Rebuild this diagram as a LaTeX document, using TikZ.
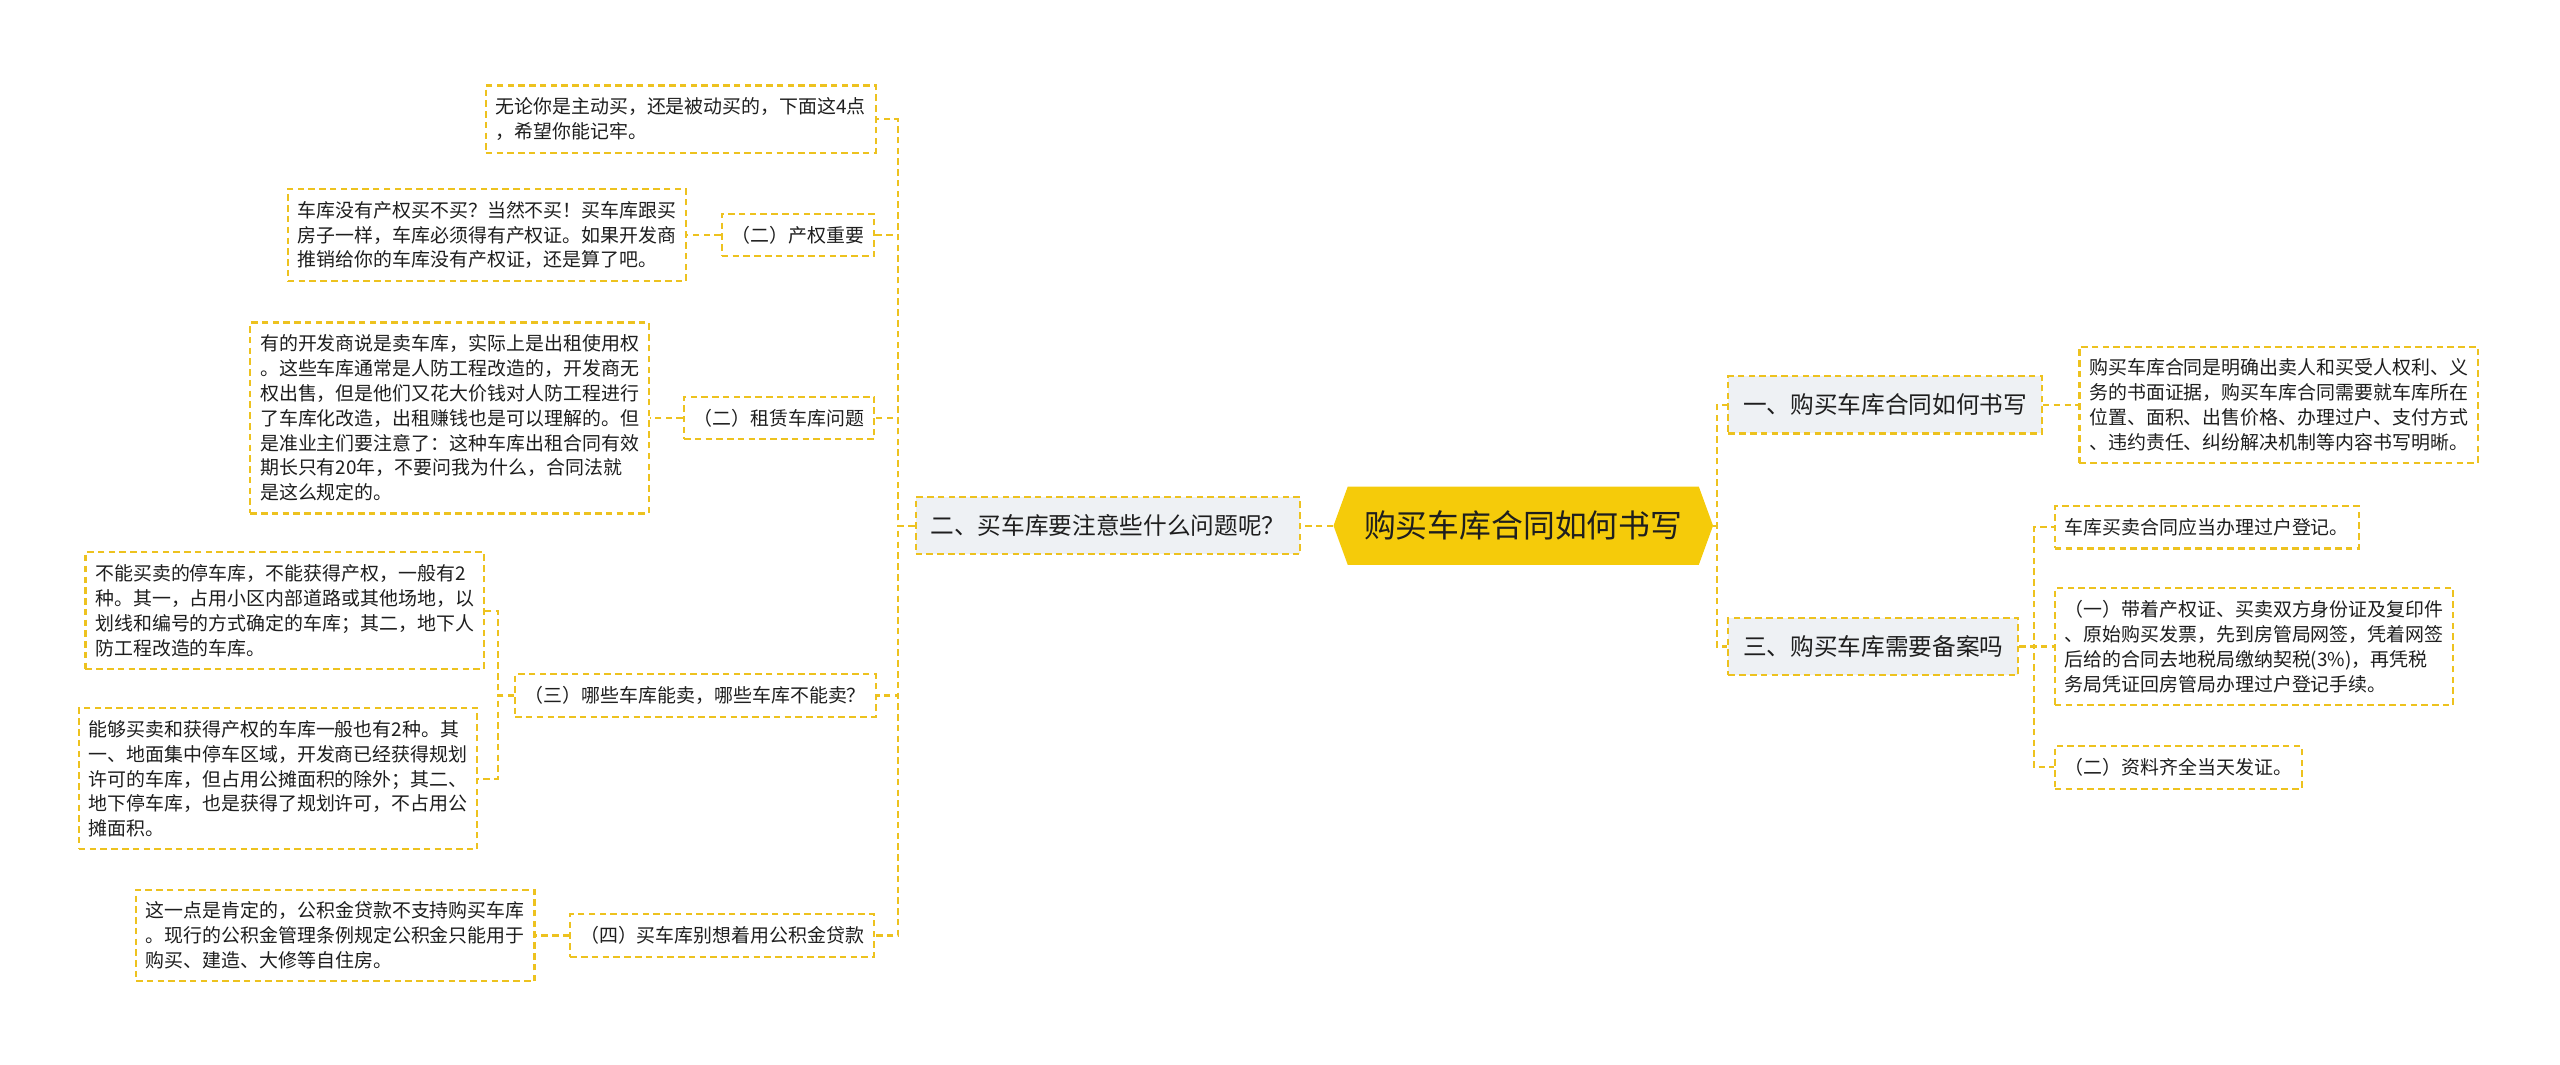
\documentclass[tikz,border=0pt]{standalone}
\usepackage{fontspec}
\setmainfont{Noto Sans CJK SC}
\usepackage{tikz}
\usetikzlibrary{positioning,shapes.symbols}
\definecolor{mYellow}{HTML}{F5CB0A}
\definecolor{mLine}{HTML}{EDC21F}
\definecolor{mGrey}{HTML}{EEF1F4}
\definecolor{mInk}{HTML}{1E1E1E}
\tikzset{
  rootnd/.style = {shape=signal, signal to=east and west, signal pointer angle=140,
                   fill=mYellow, draw=none, minimum height=48pt, inner xsep=10pt,
                   text=mInk, font=\fontsize{19.5}{24}\selectfont},
  topic/.style  = {draw=mLine, dash pattern=on 4pt off 2.6pt, line width=1.3pt,
                   fill=mGrey, minimum height=35pt, inner xsep=9pt,
                   text=mInk, font=\fontsize{14.5}{18}\selectfont},
  leaf/.style   = {draw=mLine, dash pattern=on 4pt off 2.6pt, line width=1.3pt,
                   fill=white, inner xsep=6pt, inner ysep=7.5pt, align=left,
                   text=mInk, font=\fontsize{11.6}{15.2}\selectfont},
  lnk/.style    = {draw=mLine, dash pattern=on 4pt off 2.6pt, line width=1.3pt},
}
\begin{document}
\begin{tikzpicture}[x=1pt, y=-1pt]
  \useasboundingbox (0,0) rectangle (1568,652);
  % centre and main topics
  \node[rootnd] (root) at (933,322) {购买车库合同如何书写};
  \node[topic, anchor=west] (b1) at (1058,248) {一、购买车库合同如何书写};
  \node[topic, anchor=west] (b3) at (1058,396) {三、购买车库需要备案吗};
  \node[topic, anchor=east] (b2) at (797,322) {二、买车库要注意些什么问题呢？};
  % right side
  \node[leaf, anchor=west] (r1) at (1273,248)
    {购买车库合同是明确出卖人和买受人权利、义\\务的书面证据，购买车库合同需要就车库所在\\位置、面积、出售价格、办理过户、支付方式\\、违约责任、纠纷解决机制等内容书写明晰。};
  \node[leaf, anchor=west] (r3a) at (1258,323) {车库买卖合同应当办理过户登记。};
  \node[leaf, anchor=west] (r3b) at (1258,396)
    {（一）带着产权证、买卖双方身份证及复印件\\、原始购买发票，先到房管局网签，凭着网签\\后给的合同去地税局缴纳契税(3\%)，再凭税\\务局凭证回房管局办理过户登记手续。};
  \node[leaf, anchor=west] (r3c) at (1258,470) {（二）资料齐全当天发证。};
  % left side
  \node[leaf, anchor=east] (l0) at (537,73)
    {无论你是主动买，还是被动买的，下面这4点\\，希望你能记牢。};
  \node[leaf, anchor=east] (l1) at (536,144) {（二）产权重要};
  \node[leaf, anchor=east] (l1a) at (421,144)
    {车库没有产权买不买？当然不买！买车库跟买\\房子一样，车库必须得有产权证。如果开发商\\推销给你的车库没有产权证，还是算了吧。};
  \node[leaf, anchor=east] (l2) at (536,256) {（二）租赁车库问题};
  \node[leaf, anchor=east] (l2a) at (398,256)
    {有的开发商说是卖车库，实际上是出租使用权\\。这些车库通常是人防工程改造的，开发商无\\权出售，但是他们又花大价钱对人防工程进行\\了车库化改造，出租赚钱也是可以理解的。但\\是准业主们要注意了：这种车库出租合同有效\\期长只有20年，不要问我为什么，合同法就\\是这么规定的。};
  \node[leaf, anchor=east] (l3) at (537,426) {（三）哪些车库能卖，哪些车库不能卖？};
  \node[leaf, anchor=east] (l3a) at (297,374)
    {不能买卖的停车库，不能获得产权，一般有2\\种。其一，占用小区内部道路或其他场地，以\\划线和编号的方式确定的车库；其二，地下人\\防工程改造的车库。};
  \node[leaf, anchor=east] (l3b) at (293,477)
    {能够买卖和获得产权的车库一般也有2种。其\\一、地面集中停车区域，开发商已经获得规划\\许可的车库，但占用公摊面积的除外；其二、\\地下停车库，也是获得了规划许可，不占用公\\摊面积。};
  \node[leaf, anchor=east] (l4) at (536,573) {（四）买车库别想着用公积金贷款};
  \node[leaf, anchor=east] (l4a) at (328,573)
    {这一点是肯定的，公积金贷款不支持购买车库\\。现行的公积金管理条例规定公积金只能用于\\购买、建造、大修等自住房。};
  % connectors
  \draw[lnk] (root.east) -- ++(2,0) |- (b1.west);
  \draw[lnk] (root.east) -- ++(2,0) |- (b3.west);
  \draw[lnk] (root.west) -- (b2.east);
  \draw[lnk] (b1.east) -- (r1.west);
  \foreach \c in {r3a,r3b,r3c}
    \draw[lnk] (b3.east) -- ++(9,0) |- (\c.west);
  \foreach \c in {l0,l1,l2,l3,l4}
    \draw[lnk] (b2.west) -- ++(-10,0) |- (\c.east);
  \draw[lnk] (l1.west) -- (l1a.east);
  \draw[lnk] (l2.west) -- (l2a.east);
  \draw[lnk] (l4.west) -- (l4a.east);
  \foreach \c in {l3a,l3b}
    \draw[lnk] (l3.west) -- ++(-10,0) |- (\c.east);
\end{tikzpicture}
\end{document}
